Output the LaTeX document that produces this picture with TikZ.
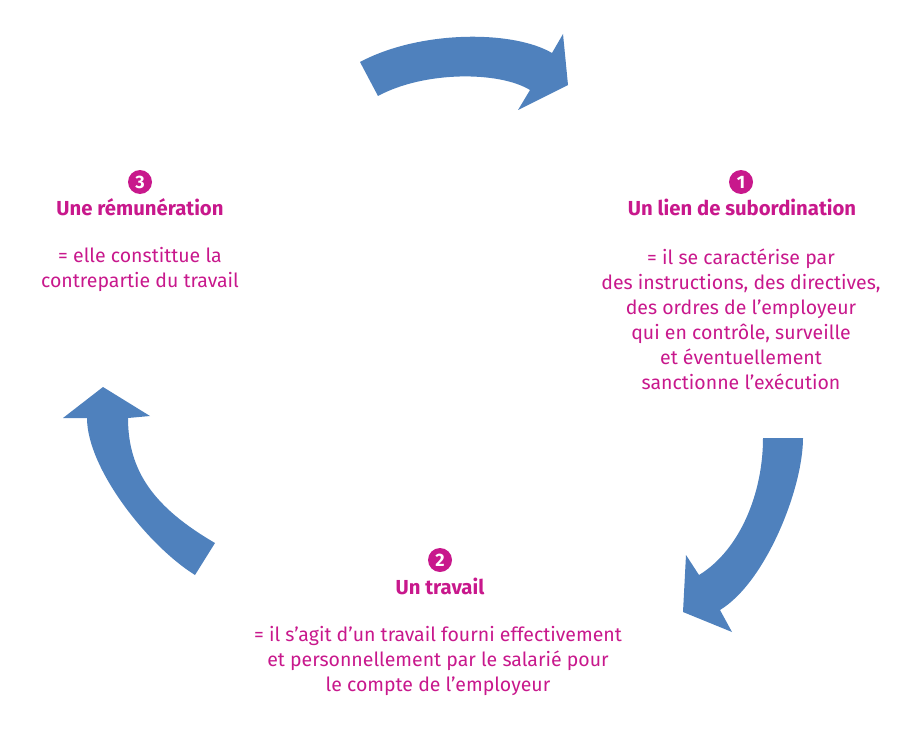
\documentclass[tikz,border=0pt]{standalone}
\usepackage{fontspec}
\setmainfont{Fira Sans}
\definecolor{mag}{RGB}{200,24,140}
\definecolor{arrowblue}{RGB}{79,129,189}
\begin{document}
\begin{tikzpicture}[x=1pt,y=-1pt,
  badge/.style={circle,fill=mag,text=white,inner sep=0pt,minimum size=24pt,font=\fontsize{18}{18}\selectfont\bfseries},
  title/.style={text=mag,inner sep=0pt,font=\fontsize{20.3}{25}\selectfont\bfseries},
  body/.style={text=mag,inner sep=0pt,align=center,font=\fontsize{19.5}{25}\selectfont},
  bigarrow/.style={fill=arrowblue,draw=none}]
\useasboundingbox (0,0) rectangle (920,733);
% arrows
\path[bigarrow] (360,62) .. controls (420,30) and (513,30) .. (552,53) -- (563,34) -- (568,85) -- (518,110) -- (530,90)
  .. controls (499,71) and (424,71) .. (378,96) -- cycle;
\path[bigarrow] (763,438) -- (803,438) .. controls (803,488) and (766,582) .. (720,610) -- (732,632) -- (683,612) -- (686,555) -- (699,575)
  .. controls (740,550) and (763,493) .. (763,438) -- cycle;
\path[bigarrow] (195,575) .. controls (147,545) and (87,468) .. (87,418) -- (63,418) -- (103,387) -- (150,416) -- (128,418)
  .. controls (128,472) and (155,508) .. (215,543) -- cycle;
% block 1
\node[badge] (b1) at (741,182) {1};
\node[title] (t1) at (742,207) {Un lien de subordination};
\node[body] (d1) at (741,319.5) {= il se caractérise par\\des instructions, des directives,\\des ordres de l’employeur\\qui en contrôle, surveille\\et éventuellement\\sanctionne l’exécution};
% block 3
\node[badge] (b3) at (140,182) {3};
\node[title] (t3) at (140,207) {Une rémunération};
\node[body] (d3) at (140,269.5) {= elle constittue la\\contrepartie du travail};
% block 2
\node[badge] (b2) at (440,560) {2};
\node[title] (t2) at (440,586) {Un travail};
\node[body] (d2) at (438,661) {= il s’agit d’un travail fourni effectivement\\et personnellement par le salarié pour\\le compte de l’employeur};
\end{tikzpicture}
\end{document}
